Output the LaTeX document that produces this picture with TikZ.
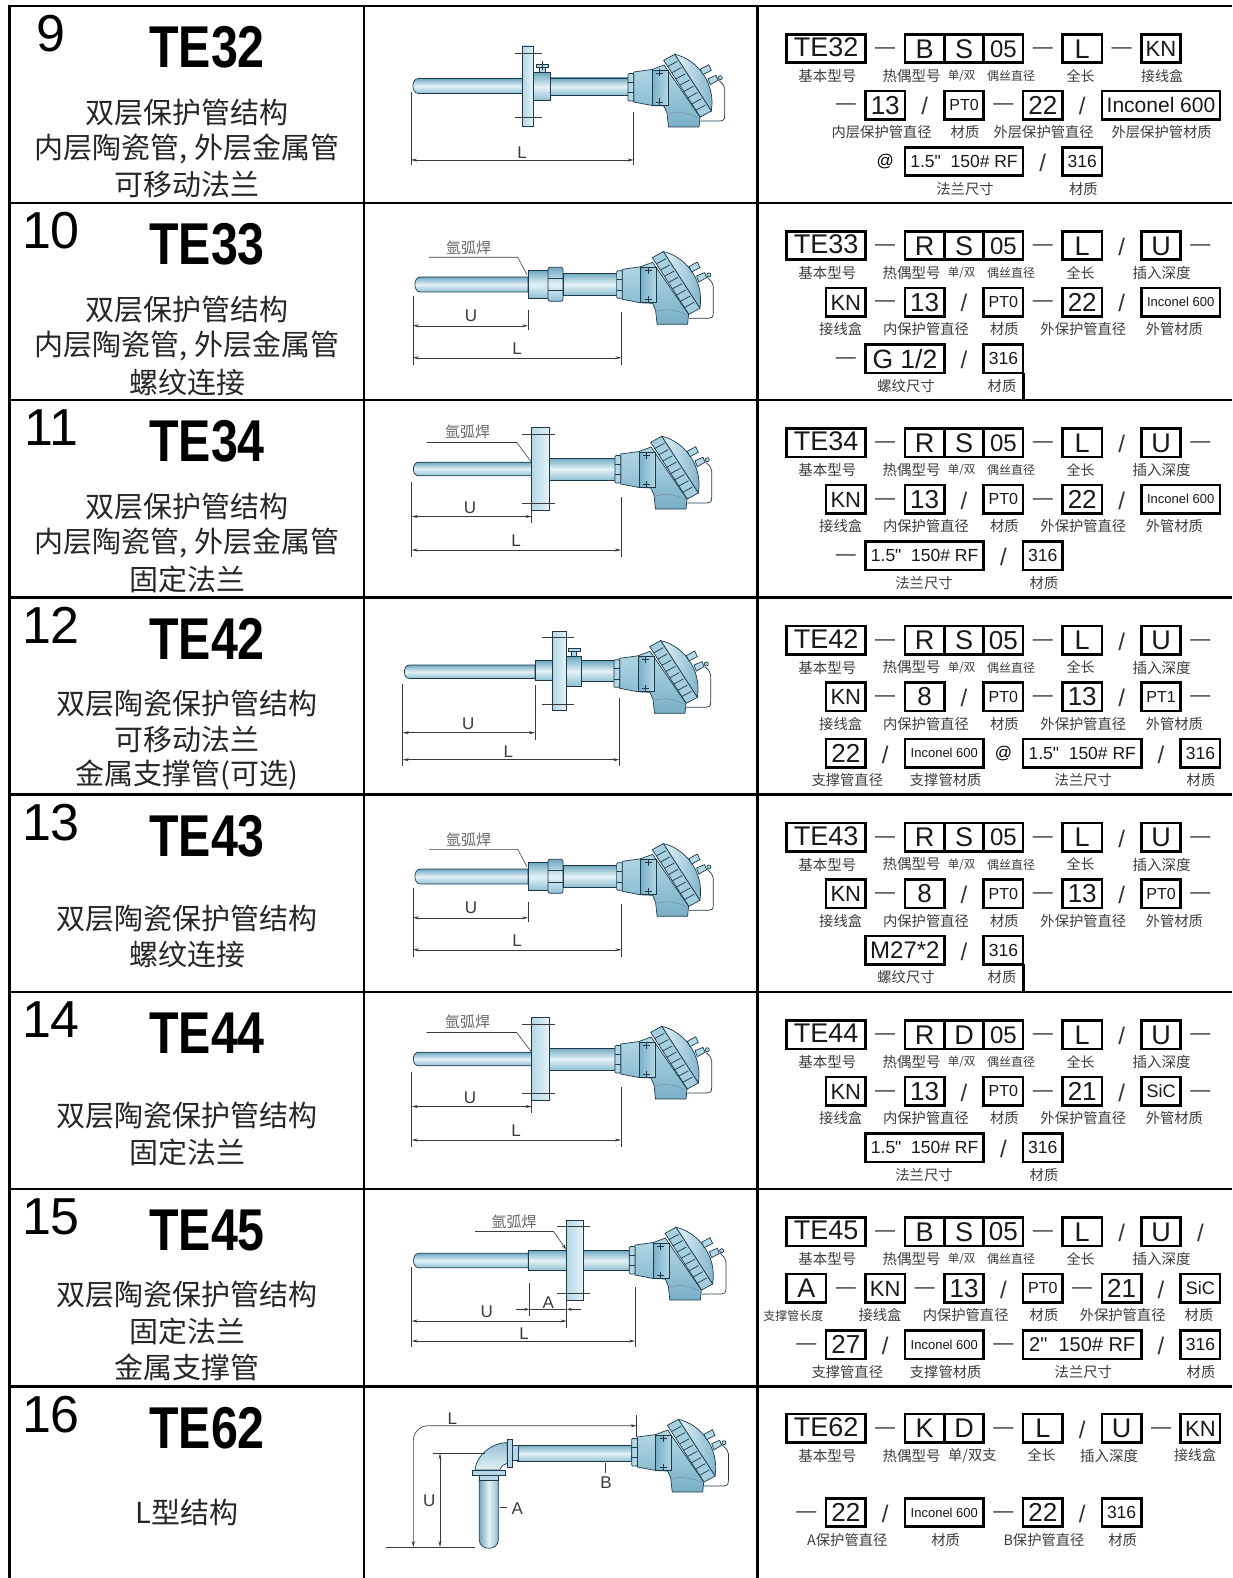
\documentclass[tikz,border=0pt]{standalone}
\usepackage{fontspec}
\usetikzlibrary{arrows.meta}
\setmainfont[Ligatures=TeXOff]{Liberation Sans}
\newfontfamily\cjk{Noto Sans CJK SC}
\newfontfamily\tefont[FakeStretch=0.82]{Liberation Sans}
\definecolor{edgec}{HTML}{1E3A4A}
\definecolor{pipeD}{HTML}{6FA8C0}
\definecolor{pipeM}{HTML}{E4F2F7}
\definecolor{pipeB}{HTML}{8FC0D3}
\definecolor{headA}{HTML}{B4D8E5}
\definecolor{headB}{HTML}{78B0C8}
\definecolor{ringC}{HTML}{A5CFDF}
\definecolor{labc}{HTML}{3C3C3C}
\definecolor{dimc}{HTML}{3A3A3A}
\newcount\nidx
\tikzset{
  tline/.style={line width=2.8pt,black},
  cellbox/.style={draw=black,line width=2.6pt,inner sep=0pt,fill=white,align=center,text=black!90},
  signn/.style={inner sep=0pt,anchor=base,text=black!80},
  lblnode/.style={inner sep=0pt,text=labc},
  partedge/.style={draw=edgec,line width=0.7pt},
  dimline/.style={draw=dimc,line width=0.6pt},
  dimarrow/.style={dimline,{Stealth[length=6pt,width=3pt]}-{Stealth[length=6pt,width=3pt]}},
  dimtext/.style={inner sep=0pt,text=dimc,font=\fontsize{17}{17}\selectfont},
  weldtext/.style={inner sep=0pt,text=black!60,font=\cjk\fontsize{15}{15}\selectfont},
}
\def\lyA{28.5}\def\lyB{85}\def\lyC{141.5}
\newcommand\nextn{\global\advance\nidx by 1\relax}
\newcommand\tbx[5]{\nextn\pgfmathsetmacro\tht{#4*0.716}%
  \node[cellbox,minimum width=#3*39.4pt,minimum height=28.3pt,text height=\tht pt,text depth=0pt,name=n\the\nidx] at ({786.7+39.4*(#2+#3/2)},{\rt+#1+14.15}) {\fontsize{#4}{#4}\selectfont #5};}
\newcommand\tdsh[2]{\nextn\node[signn,name=n\the\nidx] at ({786.7+39.4*(#2+0.5)},{\rt+#1+19}) {\fontsize{20}{20}\selectfont —};}
\newcommand\tslh[2]{\nextn\node[signn,name=n\the\nidx] at ({786.7+39.4*(#2+0.5)},{\rt+#1+24}) {\fontsize{24}{24}\selectfont /};}
\newcommand\tat[2]{\nextn\node[signn,text=black,name=n\the\nidx] at ({786.7+39.4*(#2+0.5)},{\rt+#1+19}) {\fontsize{17}{17}\selectfont @};}
% label: y of its line, x given as zoom units, size, text
\newcommand\tlbl[4]{\nextn\node[lblnode,name=n\the\nidx] at ({755+#2/3},{\rt+#1+41.5}) {\cjk\fontsize{#3}{#3}\selectfont #4};}
\newcommand\firstline[4]{%
  \tbx{\lyA}{0}{2}{27}{\raisebox{1.5pt}{#1}}\tdsh{\lyA}{2}\tbx{\lyA}{3}{1}{27}{#2}\tbx{\lyA}{4}{1}{27}{#3}\tbx{\lyA}{5}{1}{#4}{05}\tdsh{\lyA}{6}\tbx{\lyA}{7}{1}{27}{L}%
  \tlbl{\lyA}{217}{14.5}{基本型号}\tlbl{\lyA}{470}{14.5}{热偶型号}\tlbl{\lyA}{620}{11.5}{单/双}\tlbl{\lyA}{768}{12}{偶丝直径}\tlbl{\lyA}{977}{14}{全长}}
\newcommand\uline{\tslh{\lyA}{8}\tbx{\lyA}{9}{1}{27}{U}\tlbl{\lyA}{1220}{14.5}{插入深度}}
\newcommand\rowhead[2]{\nextn\node[inner sep=0pt,name=n\the\nidx] at (51,{\rt+28}) {\fontsize{52}{52}\selectfont #1};%
  \nextn\node[inner sep=0pt,name=n\the\nidx] at (207,{\rt+41.5}) {\tefont\bfseries\fontsize{59}{59}\selectfont #2};}
\newcommand\ltxt[2]{\nextn\node[inner sep=0pt,text=black!85,name=n\the\nidx] at (187,{\rt+#1}) {\cjk\fontsize{29}{29}\selectfont #2};}
% thermocouple parts
\newcommand\pipeH[4]{\path[partedge,top color=pipeD,bottom color=pipeB,middle color=pipeM] (#1,{#3-#4}) rectangle (#2,{#3+#4});}
\newcommand\pipeRnd[4]{\path[partedge,top color=pipeD,bottom color=pipeB,middle color=pipeM] (#2,{#3-#4}) -- ({#1+#4},{#3-#4}) .. controls (#1,{#3-#4}) and (#1,{#3+#4}) .. ({#1+#4},{#3+#4}) -- (#2,{#3+#4}) -- cycle;}
\newcommand\flng[4]{\path[partedge,left color=headA,right color=pipeM] (#1,#3) rectangle (#2,#4);}
\newcommand\thead[2]{\begin{scope}[shift={(#1,#2)}]
  \draw[draw=edgec,line width=0.7pt] (90.7,-6.7) .. controls (95,-3) .. (96.7,1.7) -- (96.7,28.3) .. controls (96.7,33) and (95,34) .. (92.3,34) -- (72.3,34);
  \path[partedge,left color=pipeM,right color=headB] (46.7,-32.7) .. controls (68,-28) and (88,-5) .. (83.3,24) -- cycle;
  \path[partedge,fill=headA] (72.3,-17.7) -- (80.7,-22.3) -- (83.3,-16.7) -- (75,-12.3) -- cycle;
  \path[partedge,fill=headA] (80,-8.3) -- (88,-11.7) -- (90,-6.7) -- (82.3,-2.3) -- cycle;
  \path[partedge,fill=headA] (92.3,-9.3) circle [radius=2];
  \path[partedge,top color=headA,bottom color=headB] (5.7,-15) -- (24,-17.5) -- (36,-22) -- (72,30) -- (71,40) -- (40.5,40) -- (39,26) -- (36,19) -- (24,18.5) -- (5.7,15) -- cycle;
  \draw[edgec!60,line width=0.4pt] (40,27) .. controls (50,24) and (62,26) .. (70,31);
  \path[partedge,fill=ringC] (35.7,-26.7) -- (46.7,-32.7) -- (83.3,24) -- (72.3,30) -- cycle;
  \foreach \t in {0.11,0.22,0.33,0.44,0.55,0.66,0.77,0.88}
    \draw[draw=edgec,line width=0.7pt] ({35.7+36.6*\t},{-26.7+56.7*\t}) -- ({46.7+36.6*\t-1.4},{-32.7+56.7*\t+0.8});
  \path[partedge,left color=headB,right color=headA] (24,-16.7) rectangle (40,18.3);
  \draw[draw=edgec,line width=0.7pt] (28,-14) -- (35,-14) (31.5,-17.5) -- (31.5,-10.5) (28,15) -- (35,15) (31.5,11.5) -- (31.5,18.5);
  \path[partedge,fill=headA,rounded corners=1pt] (0,-13.5) rectangle (5.7,14);
  \draw[draw=edgec,line width=0.5pt] (0,-5) -- (5.7,-5) (0,5.5) -- (5.7,5.5);
  \end{scope}}
\newcommand\extL[3]{\draw[dimline] (#1,#2) -- (#1,#3);}
\newcommand\dimH[3]{\draw[dimarrow] (#1,#3) -- (#2,#3);}
\newcommand\dimT[3]{\nextn\node[dimtext,name=n\the\nidx] at (#1,#2) {#3};}
\newcommand\weldT[2]{\nextn\node[weldtext,name=n\the\nidx] at (#1,#2) {氩弧焊};}
\newcommand\nutH[4]{\path[partedge,top color=pipeD,bottom color=pipeB,middle color=pipeM,rounded corners=2pt] (#1,{#3-#4}) rectangle (#2,{#3+#4});
  \draw[draw=edgec,line width=0.5pt] (#1,{#3-0.35*#4}) -- (#2,{#3-0.35*#4}) (#1,{#3+0.35*#4}) -- (#2,{#3+0.35*#4});}
\newcommand\threaded[2]{%
  \begin{scope}[shift={(#1,#2)}]
  \pipeRnd{413}{528}{0.2}{7.5}
  \pipeH{528}{548}{0}{14}
  \nutH{548}{563}{0}{17}
  \pipeH{563}{617}{0}{11}
  \draw[dimline] (429,-27) -- (517.7,-27) -- (527,-9.5);
  \extL{413}{12}{81}\extL{528}{26}{46}\extL{621.4}{27.5}{81}
  \dimH{413}{528}{41.5}\dimH{413}{621.4}{73.5}
  \end{scope}}
\newcommand\fixedfl[2]{%
  \begin{scope}[shift={(#1,#2)}]
  \pipeRnd{411.7}{532}{0}{6.8}
  \flng{531.7}{549}{-41.5}{41.5}
  \draw[dimline] (522.3,-35) -- (555,-35) (522.3,34.5) -- (555,34.5);
  \pipeH{549}{615}{0}{11}
  \draw[dimline] (426.7,-26.5) -- (516.7,-26.5) -- (531,-7.5);
  \extL{411.7}{12.5}{87.5}\extL{531.7}{41}{54}\extL{621}{28}{87.5}
  \dimH{411.7}{531.7}{47.5}\dimH{411.7}{621}{81}
  \end{scope}}
\begin{document}
\begin{tikzpicture}[x=1pt,y=-1pt]
\useasboundingbox (0,0) rectangle (1232,1578);
% table rules
\draw[tline] (9.7,4.6) -- (9.7,1578) (364,4.6) -- (364,1578) (757.5,4.6) -- (757.5,1578);
\foreach \yy in {6,203,400,597.5,794.5,992,1189,1386.7}
  \draw[tline] (8.3,\yy) -- (1232,\yy);

% ---------- row 9
\def\rt{6}
\rowhead{9}{TE32}
\ltxt{107}{双层保护管结构}\ltxt{143}{内层陶瓷管, 外层金属管}\ltxt{179}{可移动法兰}
\firstline{TE32}{B}{S}{24}\tdsh{\lyA}{8}\tbx{\lyA}{9}{1}{22}{KN}\tlbl{\lyA}{1221}{14}{接线盒}
\tdsh{\lyB}{1}\tbx{\lyB}{2}{1}{26}{13}\tslh{\lyB}{3}\tbx{\lyB}{4}{1}{16}{PT0}\tdsh{\lyB}{5}\tbx{\lyB}{6}{1}{26}{22}\tslh{\lyB}{7}\tbx{\lyB}{8}{3}{21}{Inconel 600}
\tlbl{\lyB}{380}{14.3}{内层保护管直径}\tlbl{\lyB}{630}{14.3}{材质}\tlbl{\lyB}{866}{14.3}{外层保护管直径}\tlbl{\lyB}{1220}{14.3}{外层保护管材质}
\tat{\lyC}{2}\tbx{\lyC}{3}{3}{17.5}{1.5"\ \ 150\# RF}\tslh{\lyC}{6}\tbx{\lyC}{7}{1}{17.5}{316}
\tlbl{\lyC}{630}{14.3}{法兰尺寸}\tlbl{\lyC}{985}{14.3}{材质}
\pipeRnd{411}{523}{86}{7.5}
\pipeH{550}{628}{86.5}{8.5}
\path[partedge,top color=pipeD,bottom color=pipeB,middle color=pipeM] (533,72.7) rectangle (550,100.7);
\flng{522.5}{533}{46}{126}
\draw[dimline] (515,53.3) -- (542,53.3) (515,117.3) -- (542,117.3);
\path[partedge,fill=headA] (539,67) rectangle (545,72.7);
\path[partedge,fill=headA] (536,64) rectangle (548,67);
\draw[dimline] (542,61) -- (542,70);
\thead{628}{87}
\extL{411}{92}{165}\extL{633.5}{112}{165}\dimH{411}{633.5}{160}
\dimT{522}{152.5}{L}

% ---------- row 10
\def\rt{203}
\rowhead{10}{TE33}
\ltxt{107}{双层保护管结构}\ltxt{143}{内层陶瓷管, 外层金属管}\ltxt{179}{螺纹连接}
\firstline{TE33}{R}{S}{24}\uline\tdsh{\lyA}{10}
\tbx{\lyB}{1}{1}{22}{KN}\tdsh{\lyB}{2}\tbx{\lyB}{3}{1}{26}{13}\tslh{\lyB}{4}\tbx{\lyB}{5}{1}{16}{PT0}\tdsh{\lyB}{6}\tbx{\lyB}{7}{1}{26}{22}\tslh{\lyB}{8}\tbx{\lyB}{9}{2}{13}{Inconel 600}
\tlbl{\lyB}{257}{14.3}{接线盒}\tlbl{\lyB}{513}{14.3}{内保护管直径}\tlbl{\lyB}{748}{14.3}{材质}\tlbl{\lyB}{985}{14.3}{外保护管直径}\tlbl{\lyB}{1258}{14.3}{外管材质}
\tdsh{\lyC}{1}\tbx{\lyC}{2}{2}{26.5}{G 1/2}\tslh{\lyC}{4}\tbx{\lyC}{5}{1}{17.5}{316}
\tlbl{\lyC}{453}{14.3}{螺纹尺寸}\tlbl{\lyC}{741}{14.3}{材质}
\draw[line width=2.6pt] (1023.3,{\rt+\lyC+28.3}) -- (1023.3,400);
\threaded{0}{284.3}\thead{616.6}{284.3}
\weldT{468.7}{248}\dimT{471}{315.7}{U}\dimT{517}{348.3}{L}

% ---------- row 11
\def\rt{400}
\rowhead{11}{TE34}
\ltxt{107}{双层保护管结构}\ltxt{143}{内层陶瓷管, 外层金属管}\ltxt{179}{固定法兰}
\firstline{TE34}{R}{S}{24}\uline\tdsh{\lyA}{10}
\tbx{\lyB}{1}{1}{22}{KN}\tdsh{\lyB}{2}\tbx{\lyB}{3}{1}{26}{13}\tslh{\lyB}{4}\tbx{\lyB}{5}{1}{16}{PT0}\tdsh{\lyB}{6}\tbx{\lyB}{7}{1}{26}{22}\tslh{\lyB}{8}\tbx{\lyB}{9}{2}{13}{Inconel 600}
\tlbl{\lyB}{257}{14.3}{接线盒}\tlbl{\lyB}{513}{14.3}{内保护管直径}\tlbl{\lyB}{748}{14.3}{材质}\tlbl{\lyB}{985}{14.3}{外保护管直径}\tlbl{\lyB}{1258}{14.3}{外管材质}
\tdsh{\lyC}{1}\tbx{\lyC}{2}{3}{17.5}{1.5"\ \ 150\# RF}\tslh{\lyC}{5}\tbx{\lyC}{6}{1}{17.5}{316}
\tlbl{\lyC}{507}{14.3}{法兰尺寸}\tlbl{\lyC}{867}{14.3}{材质}
\fixedfl{0}{469}\thead{615}{469}
\weldT{467.7}{432.3}\dimT{470}{507.3}{U}\dimT{516}{540.3}{L}

% ---------- row 12
\def\rt{597.5}
\rowhead{12}{TE42}
\ltxt{106}{双层陶瓷保护管结构}\ltxt{142}{可移动法兰}\ltxt{178}{金属支撑管(可选)}
\firstline{TE42}{R}{S}{26}\uline\tdsh{\lyA}{10}
\tbx{\lyB}{1}{1}{22}{KN}\tdsh{\lyB}{2}\tbx{\lyB}{3}{1}{26}{8}\tslh{\lyB}{4}\tbx{\lyB}{5}{1}{16}{PT0}\tdsh{\lyB}{6}\tbx{\lyB}{7}{1}{26}{13}\tslh{\lyB}{8}\tbx{\lyB}{9}{1}{16}{PT1}\tdsh{\lyB}{10}
\tlbl{\lyB}{257}{14.3}{接线盒}\tlbl{\lyB}{513}{14.3}{内保护管直径}\tlbl{\lyB}{748}{14.3}{材质}\tlbl{\lyB}{985}{14.3}{外保护管直径}\tlbl{\lyB}{1258}{14.3}{外管材质}
\tbx{\lyC}{1}{1}{26}{22}\tslh{\lyC}{2}\tbx{\lyC}{3}{2}{13}{Inconel 600}\tat{\lyC}{5}\tbx{\lyC}{6}{3}{17.5}{1.5"\ \ 150\# RF}\tslh{\lyC}{9}\tbx{\lyC}{10}{1}{17.5}{316}
\tlbl{\lyC}{277}{14.3}{支撑管直径}\tlbl{\lyC}{572}{14.3}{支撑管材质}\tlbl{\lyC}{985}{14.3}{法兰尺寸}\tlbl{\lyC}{1338}{14.3}{材质}
\pipeRnd{402.7}{535}{671.7}{6.7}
\pipeH{535}{553}{670.7}{10}
\pipeH{581.7}{614}{671.2}{10.5}
\path[partedge,top color=pipeD,bottom color=pipeB,middle color=pipeM] (566,656.7) rectangle (581.7,686);
\flng{552.7}{566}{631.7}{710.7}
\draw[dimline] (541.7,637.7) -- (574,637.7) (541.7,704.3) -- (574,704.3);
\path[partedge,fill=headA] (571.7,651.7) rectangle (576.7,656.7);
\path[partedge,fill=headA] (568.3,648.3) rectangle (580,651.7);
\thead{614}{673.3}
\extL{402.7}{684}{766}\extL{535}{685}{740}\extL{619.3}{698}{766}
\dimH{402.7}{535}{732.7}\dimH{402.7}{619.3}{759.7}
\dimT{468.3}{724}{U}\dimT{508.3}{751.3}{L}

% ---------- row 13
\def\rt{794.5}
\rowhead{13}{TE43}
\ltxt{124}{双层陶瓷保护管结构}\ltxt{160}{螺纹连接}
\firstline{TE43}{R}{S}{24}\uline\tdsh{\lyA}{10}
\tbx{\lyB}{1}{1}{22}{KN}\tdsh{\lyB}{2}\tbx{\lyB}{3}{1}{26}{8}\tslh{\lyB}{4}\tbx{\lyB}{5}{1}{16}{PT0}\tdsh{\lyB}{6}\tbx{\lyB}{7}{1}{26}{13}\tslh{\lyB}{8}\tbx{\lyB}{9}{1}{16}{PT0}\tdsh{\lyB}{10}
\tlbl{\lyB}{257}{14.3}{接线盒}\tlbl{\lyB}{513}{14.3}{内保护管直径}\tlbl{\lyB}{748}{14.3}{材质}\tlbl{\lyB}{985}{14.3}{外保护管直径}\tlbl{\lyB}{1258}{14.3}{外管材质}
\tbx{\lyC}{2}{2}{24}{M27*2}\tslh{\lyC}{4}\tbx{\lyC}{5}{1}{17.5}{316}
\tlbl{\lyC}{453}{14.3}{螺纹尺寸}\tlbl{\lyC}{741}{14.3}{材质}
\draw[line width=2.6pt] (1023.3,{\rt+\lyC+28.3}) -- (1023.3,992);
\threaded{0}{876.3}\thead{616.6}{876.3}
\weldT{468.7}{840}\dimT{471}{907.7}{U}\dimT{517}{940.3}{L}

% ---------- row 14
\def\rt{992}
\rowhead{14}{TE44}
\ltxt{124}{双层陶瓷保护管结构}\ltxt{160}{固定法兰}
\firstline{TE44}{R}{D}{24}\uline\tdsh{\lyA}{10}
\tbx{\lyB}{1}{1}{22}{KN}\tdsh{\lyB}{2}\tbx{\lyB}{3}{1}{26}{13}\tslh{\lyB}{4}\tbx{\lyB}{5}{1}{16}{PT0}\tdsh{\lyB}{6}\tbx{\lyB}{7}{1}{26}{21}\tslh{\lyB}{8}\tbx{\lyB}{9}{1}{18}{SiC}\tdsh{\lyB}{10}
\tlbl{\lyB}{257}{14.3}{接线盒}\tlbl{\lyB}{513}{14.3}{内保护管直径}\tlbl{\lyB}{748}{14.3}{材质}\tlbl{\lyB}{985}{14.3}{外保护管直径}\tlbl{\lyB}{1258}{14.3}{外管材质}
\tbx{\lyC}{2}{3}{17.5}{1.5"\ \ 150\# RF}\tslh{\lyC}{5}\tbx{\lyC}{6}{1}{17.5}{316}
\tlbl{\lyC}{507}{14.3}{法兰尺寸}\tlbl{\lyC}{867}{14.3}{材质}
\fixedfl{0}{1059}\thead{615}{1059}
\weldT{467.7}{1022.3}\dimT{470}{1097.3}{U}\dimT{516}{1130.3}{L}

% ---------- row 15
\def\rt{1189}
\rowhead{15}{TE45}
\ltxt{106}{双层陶瓷保护管结构}\ltxt{142}{固定法兰}\ltxt{178}{金属支撑管}
\firstline{TE45}{B}{S}{26}\uline\tslh{\lyA}{10}
\tbx{\lyB}{0}{1}{27}{A}\tdsh{\lyB}{1}\tbx{\lyB}{2}{1}{22}{KN}\tdsh{\lyB}{3}\tbx{\lyB}{4}{1}{26}{13}\tslh{\lyB}{5}\tbx{\lyB}{6}{1}{16}{PT0}\tdsh{\lyB}{7}\tbx{\lyB}{8}{1}{26}{21}\tslh{\lyB}{9}\tbx{\lyB}{10}{1}{18}{SiC}
\tlbl{\lyB}{115}{12}{支撑管长度}\tlbl{\lyB}{375}{14.3}{接线盒}\tlbl{\lyB}{632}{14.3}{内保护管直径}\tlbl{\lyB}{867}{14.3}{材质}\tlbl{\lyB}{1103}{14.3}{外保护管直径}\tlbl{\lyB}{1332}{14.3}{材质}
\tdsh{\lyC}{0}\tbx{\lyC}{1}{1}{26}{27}\tslh{\lyC}{2}\tbx{\lyC}{3}{2}{13}{Inconel 600}\tdsh{\lyC}{5}\tbx{\lyC}{6}{3}{20}{2"\ \ 150\# RF}\tslh{\lyC}{9}\tbx{\lyC}{10}{1}{17.5}{316}
\tlbl{\lyC}{277}{14.3}{支撑管直径}\tlbl{\lyC}{572}{14.3}{支撑管材质}\tlbl{\lyC}{985}{14.3}{法兰尺寸}\tlbl{\lyC}{1338}{14.3}{材质}
\pipeRnd{411.7}{528.3}{1260.5}{7.2}
\pipeH{528.3}{566.7}{1260.4}{10.3}
\pipeH{583.3}{629.3}{1260.4}{10.3}
\flng{566.7}{583.3}{1220}{1300}
\draw[dimline] (557.3,1226.7) -- (590,1226.7) (557.3,1293.3) -- (590,1293.3);
\thead{629.3}{1260}
\draw[dimline] (475,1231) -- (553.3,1231);
\draw[dimline,-{Stealth[length=5pt,width=3pt]}] (553.3,1231) -- (566,1249.3);
\weldT{514}{1222.3}
\extL{411.7}{1266.7}{1346.7}\extL{529.3}{1282.7}{1316}\extL{566.7}{1300}{1328}\extL{635}{1287.3}{1346.7}
\draw[dimline,-{Stealth[length=5pt,width=3pt]}] (515.7,1309.3) -- (529.3,1309.3);
\draw[dimline] (529.3,1309.3) -- (566.7,1309.3);
\draw[dimline,-{Stealth[length=5pt,width=3pt]}] (580.7,1309.3) -- (566.7,1309.3);
\dimH{411.7}{566.7}{1321}\dimH{411.7}{635}{1341}
\dimT{548.3}{1302.3}{A}\dimT{486.7}{1311.7}{U}\dimT{524}{1334}{L}

% ---------- row 16
\def\rt{1386.7}
\rowhead{16}{TE62}
\ltxt{126}{L型结构}
\def\lyA{27.3}
\def\lyD{111.6}
\tbx{\lyA}{0}{2}{27}{\raisebox{1.5pt}{TE62}}\tdsh{\lyA}{2}\tbx{\lyA}{3}{1}{27}{K}\tbx{\lyA}{4}{1}{27}{D}\tdsh{\lyA}{5}\tbx{\lyA}{6}{1}{27}{L}\tslh{\lyA}{7}\tbx{\lyA}{8}{1}{27}{U}\tdsh{\lyA}{9}\tbx{\lyA}{10}{1}{22}{KN}
\tlbl{\lyA}{217}{14.5}{基本型号}\tlbl{\lyA}{470}{14.5}{热偶型号}\tlbl{\lyA}{652}{14.3}{单/双支}\tlbl{\lyA}{860}{14}{全长}\tlbl{\lyA}{1062}{14.5}{插入深度}\tlbl{\lyA}{1320}{14}{接线盒}
\tdsh{\lyD}{0}\tbx{\lyD}{1}{1}{26}{22}\tslh{\lyD}{2}\tbx{\lyD}{3}{2}{13}{Inconel 600}\tdsh{\lyD}{5}\tbx{\lyD}{6}{1}{26}{22}\tslh{\lyD}{7}\tbx{\lyD}{8}{1}{17.5}{316}
\tlbl{\lyD}{277}{14.3}{A保护管直径}\tlbl{\lyD}{572}{14.3}{材质}\tlbl{\lyD}{867}{14.3}{B保护管直径}\tlbl{\lyD}{1103}{14.3}{材质}
\pipeH{517.7}{631.7}{1453.3}{8.3}
\thead{631.7}{1452}
\path[partedge,fill=headA] (512.7,1445.7) rectangle (518.3,1460);
\path[partedge,top color=pipeB,bottom color=pipeM] (507.3,1442.7) .. controls (495,1441.7) and (476.7,1453.3) .. (475,1470) -- (500,1470) .. controls (501,1466) and (504,1464) .. (507.3,1463.3) -- cycle;
\path[partedge,fill=headA] (507.3,1439.3) rectangle (512.7,1467.7);
\path[partedge,left color=pipeD,right color=pipeB,middle color=pipeM] (479.3,1480) -- (479.3,1540) .. controls (479.3,1551) and (498.3,1551) .. (498.3,1540) -- (498.3,1480) -- cycle;
\path[partedge,fill=headA] (479.3,1475) rectangle (498.3,1480);
\path[partedge,fill=headA] (472.7,1470.7) rectangle (505,1475);
\draw[dimarrow,rounded corners=15pt] (413.3,1547) -- (413.3,1425.7) -- (636.7,1425.7);
\draw[dimline] (636.7,1415) -- (636.7,1437);
\draw[dimline] (386,1547.7) -- (475,1547.7);
\draw[dimarrow] (440,1453.3) -- (440,1547);
\draw[dimline] (433.3,1453.3) -- (485,1453.3);
\draw[dimline] (500,1507.7) -- (507.3,1507.7);
\draw[dimline] (605.7,1462.7) -- (605.7,1473.3);
\dimT{452.3}{1418.3}{L}\dimT{429.3}{1500.7}{U}\dimT{517.3}{1509}{A}\dimT{606}{1482.7}{B}
\end{tikzpicture}
\end{document}
